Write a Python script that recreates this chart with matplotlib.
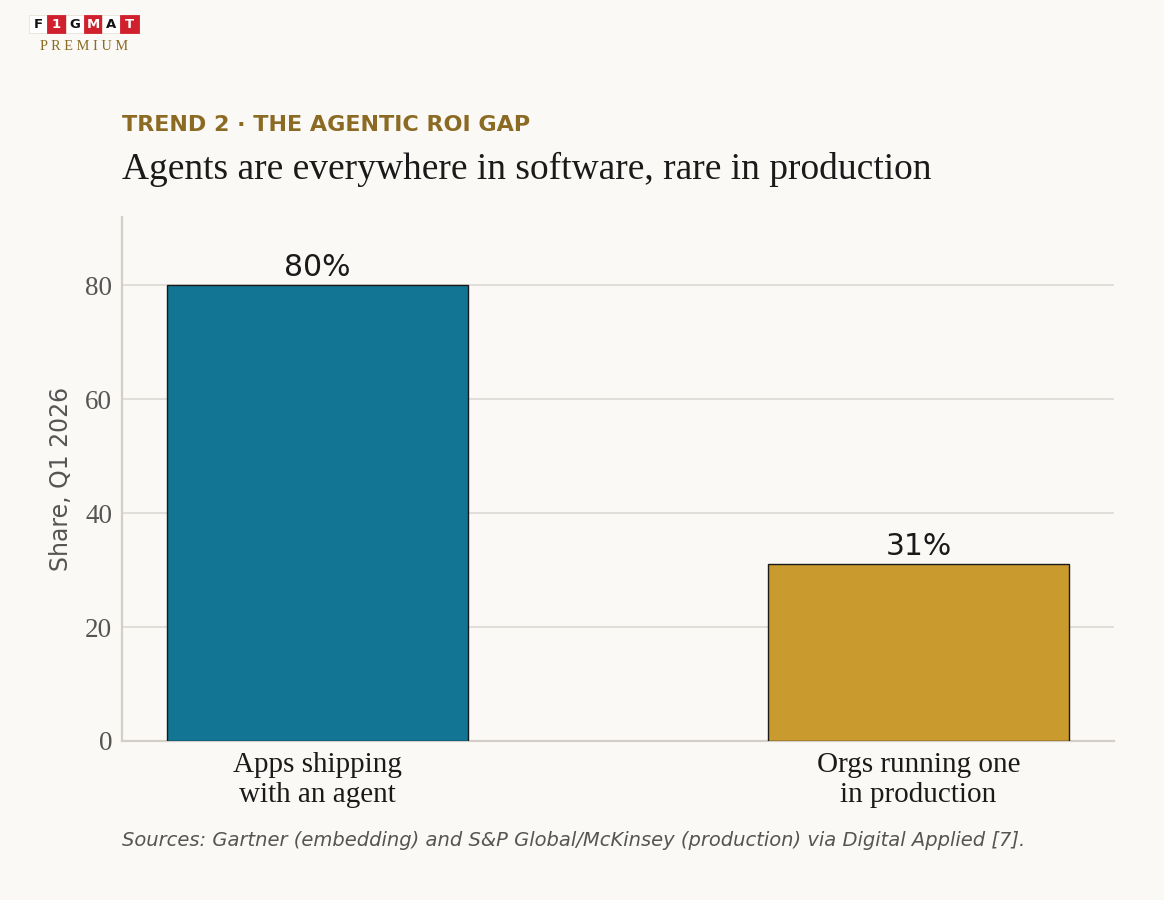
import matplotlib
matplotlib.use("Agg")
import matplotlib.pyplot as plt
from matplotlib.patches import Rectangle

# ---------------------------------------------------------------------------
# Data
# ---------------------------------------------------------------------------
categories = ["Apps shipping\nwith an agent", "Orgs running one\nin production"]
shares = [80, 31]
bar_colors = ["#117593", "#c99b2e"]
yticks = [0, 20, 40, 60, 80]

BG = "#faf9f6"
GRID = "#dcd8d2"
SERIF = ["Liberation Serif", "DejaVu Serif"]
SANS = ["DejaVu Sans"]

fig = plt.figure(figsize=(11.64, 9.0), dpi=100, facecolor=BG)
ax = fig.add_axes([0.1048, 0.1767, 0.8522, 0.5822], facecolor=BG)

x = list(range(len(categories)))
ax.bar(x, shares, width=0.5, color=bar_colors, edgecolor="#1a1a1a",
       linewidth=1.0, zorder=3)
for xi, v in zip(x, shares):
    ax.text(xi, v + 0.6, f"{v}%", ha="center", va="bottom",
            fontsize=21.5, color="#1a1a1a", family=SANS, zorder=4)

ax.set_ylim(0, 92)
ax.set_yticks(yticks)
ax.set_yticklabels([str(t) for t in yticks], family=SERIF, fontsize=19.5,
                   color="#555555")
ax.set_xticks(x)
ax.set_xticklabels(categories, family=SERIF, fontsize=21, color="#1a1a1a",
                   linespacing=1.18)
ax.tick_params(axis="y", length=0, pad=7)
ax.tick_params(axis="x", length=0, pad=8)
ax.set_ylabel("Share, Q1 2026", family=SANS, fontsize=17, color="#555555",
              labelpad=9)

ax.grid(axis="y", color=GRID, linewidth=1.2, zorder=0)
ax.set_axisbelow(True)
for side in ("top", "right"):
    ax.spines[side].set_visible(False)
for side in ("left", "bottom"):
    ax.spines[side].set_color("#d3cfc8")
    ax.spines[side].set_linewidth(1.6)

# --- Titles ---
fig.text(0.1048, 0.861, "TREND 2 \u00b7 THE AGENTIC ROI GAP", family=SANS,
         fontsize=16, fontweight="bold", color="#8b6a23", va="center")
fig.text(0.1048, 0.812, "Agents are everywhere in software, rare in production",
         family=SERIF, fontsize=27, color="#1a1a1a", va="center")
fig.text(0.1048, 0.066,
         "Sources: Gartner (embedding) and S&P Global/McKinsey (production) "
         "via Digital Applied [7].",
         family=SANS, fontsize=14, style="italic", color="#555555", va="center")

# --- Logo ---
letters = ["F", "1", "G", "M", "A", "T"]
box_w, box_h = 18.3 / 1164, 18 / 900
x0, y0 = 29 / 1164, 1 - 33 / 900
for i, ch in enumerate(letters):
    red = i % 2 == 1
    fig.patches.append(Rectangle((x0 + i * box_w, y0), box_w, box_h,
                                 transform=fig.transFigure,
                                 facecolor="#d0202e" if red else "white",
                                 edgecolor="#e8e2d6" if not red else "#d0202e",
                                 linewidth=0.6))
    fig.text(x0 + (i + 0.5) * box_w, y0 + box_h / 2, ch, ha="center",
             va="center", family=SANS, fontsize=9.5, fontweight="bold",
             color="white" if red else "#111111")
fig.text(x0 + 3 * box_w, 1 - 46 / 900, "P R E M I U M", ha="center",
         va="center", family=SERIF, fontsize=10.3, color="#8b6a23")

fig.savefig("out.png", dpi=100, facecolor=BG)
